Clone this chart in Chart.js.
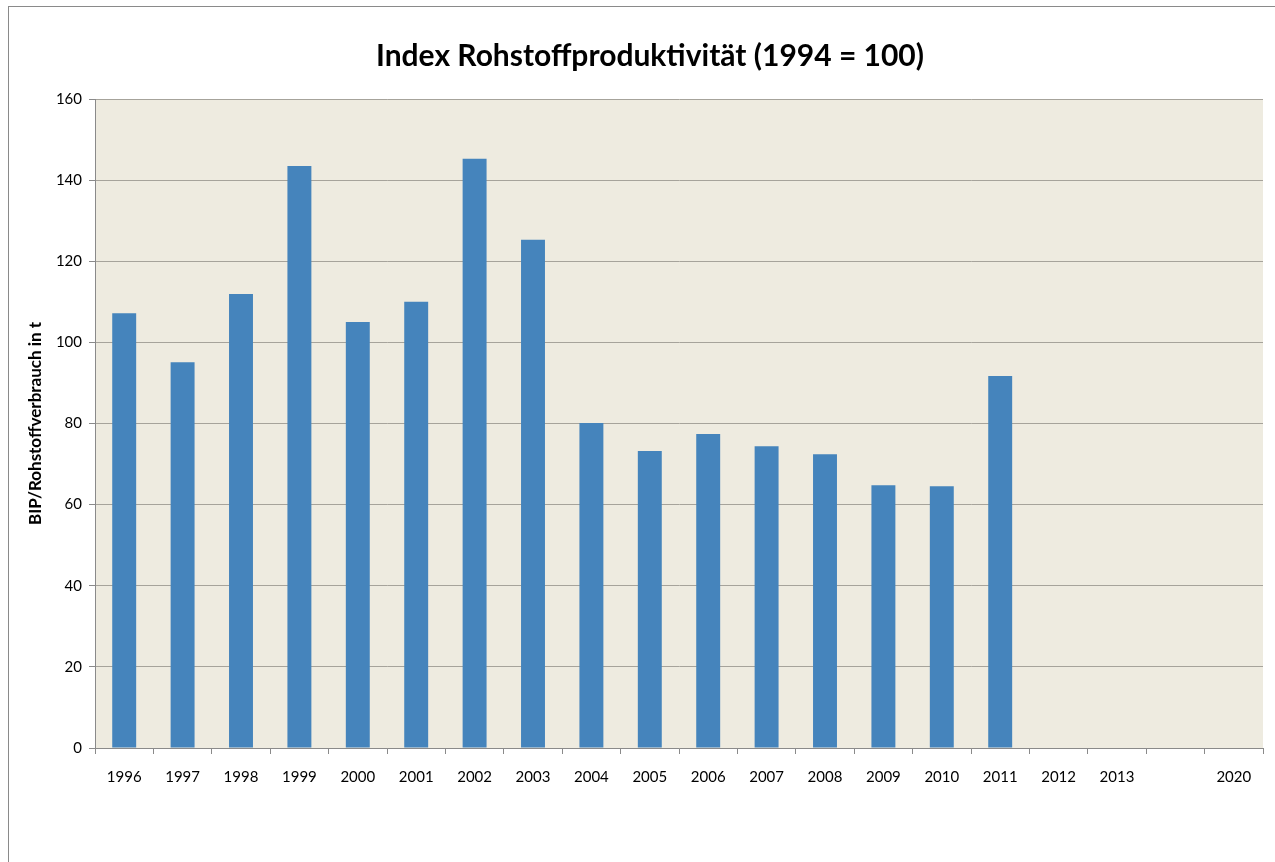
<!DOCTYPE html>
<html>
<head>
<meta charset="utf-8">
<script src="https://cdn.jsdelivr.net/npm/chart.js@4"></script>
<style>
  html, body { margin: 0; padding: 0; background: #ffffff; overflow: hidden; }
  #wrap { position: relative; width: 1275px; height: 862px; }
  #frame { position: absolute; left: 8px; top: 6px; width: 1400px; height: 1000px; border: 1px solid #8a8a8a; box-sizing: border-box; }
  #c { position: absolute; left: 0; top: 0; }
</style>
</head>
<body>
<div id="wrap">
  <div id="frame"></div>
  <canvas id="c" width="1275" height="862"></canvas>
</div>
<script>
const categories = ['1996','1997','1998','1999','2000','2001','2002','2003','2004','2005','2006','2007','2008','2009','2010','2011','2012','2013','','2020'];
const indexValues = [107.2, 95.1, 111.9, 143.5, 105.0, 110.0, 145.3, 125.3, 80.1, 73.2, 77.4, 74.4, 72.4, 64.8, 64.5, 91.7, null, null, null, null];
const yTicks = [0, 20, 40, 60, 80, 100, 120, 140, 160];
const chartTitle = 'Index Rohstoffproduktivität (1994 = 100)';
const yAxisTitle = 'BIP/Rohstoffverbrauch in t';

const FONT = 'Lato, "Open Sans", "Liberation Sans", sans-serif';

const plotBg = {
  id: 'plotBg',
  beforeDraw(chart) {
    const a = chart.chartArea, ctx = chart.ctx;
    ctx.save();
    ctx.fillStyle = '#eeebe0';
    ctx.fillRect(a.left, a.top, a.right - a.left, a.bottom - a.top);
    ctx.restore();
  }
};
const titlePlugin = {
  id: 'titleText',
  afterDraw(chart) {
    const ctx = chart.ctx;
    ctx.save();
    ctx.font = 'bold 30px ' + FONT;
    ctx.fillStyle = '#000000';
    ctx.textAlign = 'center';
    ctx.textBaseline = 'middle';
    ctx.fillText(chartTitle, 650, 56);
    ctx.restore();
  }
};

new Chart(document.getElementById('c'), {
  type: 'bar',
  data: {
    labels: categories,
    datasets: [{
      data: indexValues,
      backgroundColor: '#4584bc',
      borderWidth: 0,
      barPercentage: 0.41,
      categoryPercentage: 1.0
    }]
  },
  options: {
    responsive: false,
    animation: false,
    layout: { padding: { left: 21, right: 12, top: 99, bottom: 0 } },
    plugins: { legend: { display: false }, title: { display: false }, tooltip: { enabled: false } },
    scales: {
      x: {
        grid: { offset: true, drawOnChartArea: false, drawTicks: true, tickLength: 6, color: '#8a8a8a' },
        border: { color: '#8a8a8a', width: 1 },
        ticks: { color: '#000000', font: { family: FONT, size: 15 }, padding: 14, maxRotation: 0, autoSkip: false },
        afterFit(scale) { scale.height = 114; }
      },
      y: {
        min: 0, max: 160,
        afterBuildTicks(scale) { scale.ticks = yTicks.map(v => ({ value: v })); },
        grid: { color: '#a6a39b', tickLength: 6, tickColor: '#8a8a8a' },
        border: { color: '#8a8a8a', width: 1 },
        ticks: { color: '#000000', font: { family: FONT, size: 15 }, padding: 7 },
        title: { display: true, text: yAxisTitle, color: '#000000', font: { family: FONT, size: 17, weight: 'bold' }, padding: { top: 4, bottom: 4 } },
        afterFit(scale) { scale.width = 74; }
      }
    }
  },
  plugins: [plotBg, titlePlugin]
});
</script>
</body>
</html>
